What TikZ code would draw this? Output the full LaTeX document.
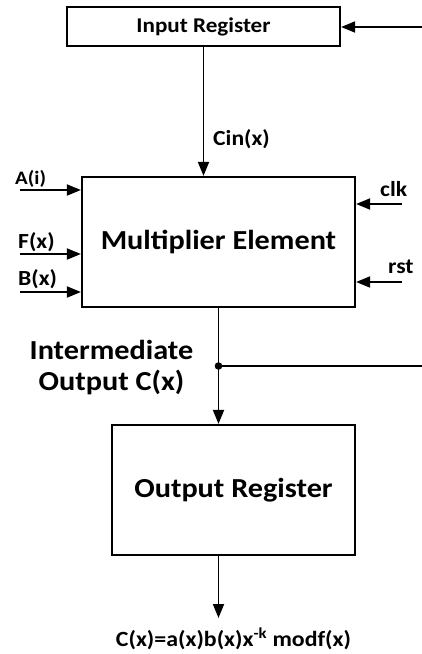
\documentclass[tikz,border=0pt]{standalone}
\usepackage{fontspec}
\setmainfont{Carlito}[FakeStretch=1.1]
\usetikzlibrary{arrows.meta,calc}
\begin{document}
\begin{tikzpicture}[x=1pt,y=-1pt,
 box/.style={draw, line width=2.2pt, rectangle, inner sep=0pt, anchor=center},
 arr/.style={line width=1.8pt, -{Triangle[length=14pt,width=11pt]}},
 ln/.style={line width=1.8pt},
 lbl/.style={inner sep=0pt, anchor=base west, font=\fontsize{21.5}{25}\selectfont\bfseries}]
\useasboundingbox (0,0) rectangle (422,654);
\node[box, minimum width=273, minimum height=39, font=\fontsize{21}{25}\selectfont\bfseries] (inreg) at (203.5,26.5) {Input Register};
\node[box, minimum width=273, minimum height=130, font=\fontsize{27.5}{32}\selectfont\bfseries] (mult) at (218.5,242) {Multiplier Element};
\node[box, minimum width=243, minimum height=130, font=\fontsize{27.5}{32}\selectfont\bfseries] (outreg) at (233.5,490) {Output Register};
% coordinates for free ends
\coordinate (inR) at (422,27);
\coordinate (aIn) at (20,190);
\coordinate (fIn) at (20,254);
\coordinate (bIn) at (20,292);
\coordinate (clkIn) at (402,204);
\coordinate (rstIn) at (402,282);
\coordinate (jn) at (218.5,366);
\coordinate (fbR) at (422,366);
\coordinate (outEnd) at (218.5,618);
% connectors
\draw[arr] (inR) -- (inreg.east |- inR);
\draw[arr] (inreg.south) -- (mult.north -| inreg.south);
\draw[arr] (aIn) -- (mult.west |- aIn);
\draw[arr] (fIn) -- (mult.west |- fIn);
\draw[arr] (bIn) -- (mult.west |- bIn);
\draw[arr] (clkIn) -- (mult.east |- clkIn);
\draw[arr] (rstIn) -- (mult.east |- rstIn);
\draw[arr] (mult.south) -- (outreg.north -| mult.south);
\draw[ln] (jn) -- (fbR);
\fill (jn) circle (3.8pt);
\draw[arr] (outreg.south -| mult.south) -- (outEnd);
% labels
\node[lbl] (cin) at (213,145) {Cin(x)};
\node[lbl, font=\fontsize{19}{22}\selectfont\bfseries] (al) at (15,184) {A(i)};
\node[lbl] (fl) at (18,248) {F(x)};
\node[lbl] (bl) at (18,285) {B(x)};
\node[lbl] (clkl) at (380,196) {clk};
\node[lbl] (rstl) at (388,273) {rst};
\node[inner sep=0pt, align=center, font=\fontsize{27.5}{31}\selectfont\bfseries] (inter) at (111.5,368) {Intermediate\\Output C(x)};
\node[inner sep=0pt, anchor=base, font=\fontsize{21.7}{25}\selectfont\bfseries] (form) at (233.5,646) {C(x)=a(x)b(x)x\textsuperscript{-k} modf(x)};
\end{tikzpicture}
\end{document}
